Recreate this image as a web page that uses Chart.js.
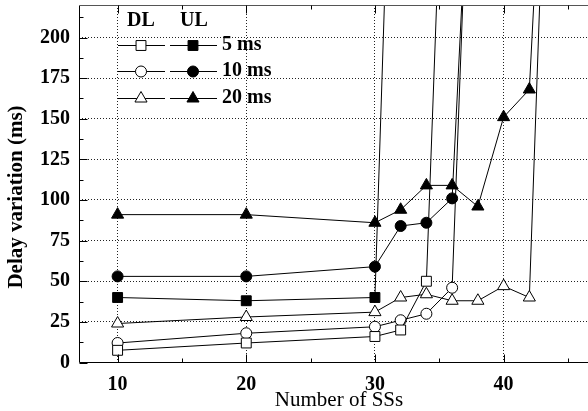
<!DOCTYPE html>
<html>
<head>
<meta charset="utf-8">
<script src="https://cdn.jsdelivr.net/npm/chart.js@4.4.0/dist/chart.umd.min.js"></script>
<style>
  html, body { margin: 0; padding: 0; background: #fff; }
</style>
</head>
<body>
<canvas id="myChart" width="588" height="411"></canvas>
<script>
// x = number of SSs, y = delay variation (ms)
const ssDL5 = [10, 20, 30, 32, 34, 36];
const dl5 = [7.5, 12, 16, 20, 50, 480];
const ssUL5 = [10, 20, 30, 32];
const ul5 = [40, 38, 40, 530];

const ssDL10 = [10, 20, 30, 32, 34, 36, 38];
const dl10 = [12, 18, 22, 26, 30, 46, 470];
const ssUL10 = [10, 20, 30, 32, 34, 36, 38];
const ul10 = [53, 53, 59, 84, 86, 101, 420];

const ssDL20 = [10, 20, 30, 32, 34, 36, 38, 40, 42, 44];
const dl20 = [24, 28, 31, 40, 42, 38, 38, 47, 40, 490];
const ssUL20 = [10, 20, 30, 32, 34, 36, 38, 40, 42, 44];
const ul20 = [91, 91, 86, 94, 109, 109, 96, 151, 168, 475];

const xMajor = [10, 20, 30, 40];
const xMinor = [15, 25, 35, 45];
const yMajor = [0, 25, 50, 75, 100, 125, 150, 175, 200];
const yMinor = [12.5, 37.5, 62.5, 87.5, 112.5, 137.5, 162.5, 187.5, 212.5];

const xTitle = "Number of SSs";
const yTitle = "Delay variation (ms)";
const legendRows = ["5 ms", "10 ms", "20 ms"];
const legendStyles = ["rect", "circle", "triangle"];

const FONT = "'Liberation Serif', 'DejaVu Serif', serif";
const sizes = { rect: 7, circle: 5.5, triangle: 7 };

function pts(xs, ys) {
  return xs.map((v, i) => ({ x: v, y: ys[i] }));
}

function series(label, xs, ys, style, filled) {
  return {
    label: label,
    data: pts(xs, ys),
    borderColor: "#000",
    borderWidth: 1,
    pointStyle: style,
    pointRadius: sizes[style],
    pointHoverRadius: sizes[style],
    pointBorderWidth: 1,
    pointBorderColor: "#000",
    pointBackgroundColor: filled ? "#000" : "#fff",
    tension: 0,
  };
}

const frame = {
  id: "frame",
  afterDraw(chart) {
    const { ctx, chartArea: a, scales } = chart;
    const x = scales.x, y = scales.y;
    ctx.save();
    ctx.strokeStyle = "#000";
    ctx.lineWidth = 1;
    const L = Math.round(a.left) + 0.5;
    const B = Math.round(a.bottom) - 0.5;
    const T = Math.round(a.top) + 0.5;
    ctx.beginPath();
    ctx.moveTo(L, T); ctx.lineTo(L, B); ctx.lineTo(a.right, B);
    ctx.stroke();
    ctx.strokeStyle = "#555";
    ctx.beginPath();
    ctx.moveTo(L, T); ctx.lineTo(a.right, T);
    ctx.stroke();
    ctx.strokeStyle = "#000";
    ctx.beginPath();
    xMajor.concat(xMinor).forEach((v) => {
      const len = xMajor.includes(v) ? 8 : 4;
      const px = Math.round(x.getPixelForValue(v)) + 0.5;
      ctx.moveTo(px, B); ctx.lineTo(px, B - len);
      ctx.moveTo(px, T); ctx.lineTo(px, T + len);
    });
    yMajor.concat(yMinor).forEach((v) => {
      const len = yMajor.includes(v) ? 8 : 4;
      const py = Math.round(y.getPixelForValue(v)) + 0.5;
      ctx.moveTo(L, py); ctx.lineTo(L + len, py);
    });
    ctx.stroke();

    // axis titles
    ctx.fillStyle = "#000";
    ctx.textAlign = "center";
    ctx.textBaseline = "middle";
    ctx.font = "21px " + FONT;
    ctx.fillText(xTitle, 339, 400);
    ctx.save();
    ctx.translate(17, 197);
    ctx.rotate(-Math.PI / 2);
    ctx.font = "bold 21px " + FONT;
    ctx.fillText(yTitle, 0, 0);
    ctx.restore();

    // legend
    ctx.textAlign = "left";
    ctx.font = "bold 20px " + FONT;
    ctx.fillText("DL", 127, 21);
    ctx.fillText("UL", 180, 21);
    legendRows.forEach((t, i) => {
      const ry = 45 + i * 26.3;
      const st = legendStyles[i];
      ctx.strokeStyle = "#000";
      ctx.lineWidth = 1;
      ctx.beginPath();
      ctx.moveTo(118, Math.round(ry) + 0.5); ctx.lineTo(165, Math.round(ry) + 0.5);
      ctx.moveTo(170, Math.round(ry) + 0.5); ctx.lineTo(217, Math.round(ry) + 0.5);
      ctx.stroke();
      const opt = { pointStyle: st, radius: sizes[st], rotation: 0, borderWidth: 1 };
      ctx.fillStyle = "#fff";
      Chart.helpers.drawPoint(ctx, opt, 141, Math.round(ry) + 0.5);
      ctx.fillStyle = "#000";
      Chart.helpers.drawPoint(ctx, opt, 193, Math.round(ry) + 0.5);
      ctx.fillStyle = "#000";
      ctx.fillText(t, 222, ry);
    });
    ctx.restore();
  },
};

const config = {
  type: "line",
  data: {
    datasets: [
      series("DL 5 ms", ssDL5, dl5, "rect", false),
      series("UL 5 ms", ssUL5, ul5, "rect", true),
      series("DL 10 ms", ssDL10, dl10, "circle", false),
      series("UL 10 ms", ssUL10, ul10, "circle", true),
      series("DL 20 ms", ssDL20, dl20, "triangle", false),
      series("UL 20 ms", ssUL20, ul20, "triangle", true),
    ],
  },
  options: {
    responsive: false,
    animation: false,
    layout: { autoPadding: false, padding: { top: 5, right: 0, left: 0, bottom: 0 } },
    plugins: { legend: { display: false }, tooltip: { enabled: false } },
    scales: {
      x: {
        type: "linear",
        min: 7,
        max: 46.56,
        afterBuildTicks: (s) => {
          s.ticks = xMajor.map((v) => ({ value: v }));
        },
        afterFit: (s) => {
          s.height = 48.5;
          s.paddingLeft = 0;
          s.paddingRight = 0;
        },
        ticks: {
          autoSkip: false,
          maxRotation: 0,
          padding: 10,
          color: "#000",
          font: { family: FONT, size: 20, weight: "bold" },
        },
        grid: { drawTicks: false, color: "#222" },
        border: { display: false, dash: [1, 2] },
      },
      y: {
        min: 0,
        max: 220,
        afterBuildTicks: (s) => {
          s.ticks = yMajor.map((v) => ({ value: v }));
        },
        afterFit: (s) => {
          s.width = 79;
          s.paddingTop = 0;
          s.paddingBottom = 0;
        },
        ticks: {
          autoSkip: false,
          padding: 9,
          color: "#000",
          font: { family: FONT, size: 20, weight: "bold" },
        },
        grid: {
          drawTicks: false,
          color: (c) => (c.tick && c.tick.value > 0 ? "#222" : "rgba(0,0,0,0)"),
        },
        border: { display: false, dash: [1, 2] },
      },
    },
  },
  plugins: [frame],
};

const myChart = new Chart(document.getElementById("myChart"), config);
</script>
</body>
</html>
